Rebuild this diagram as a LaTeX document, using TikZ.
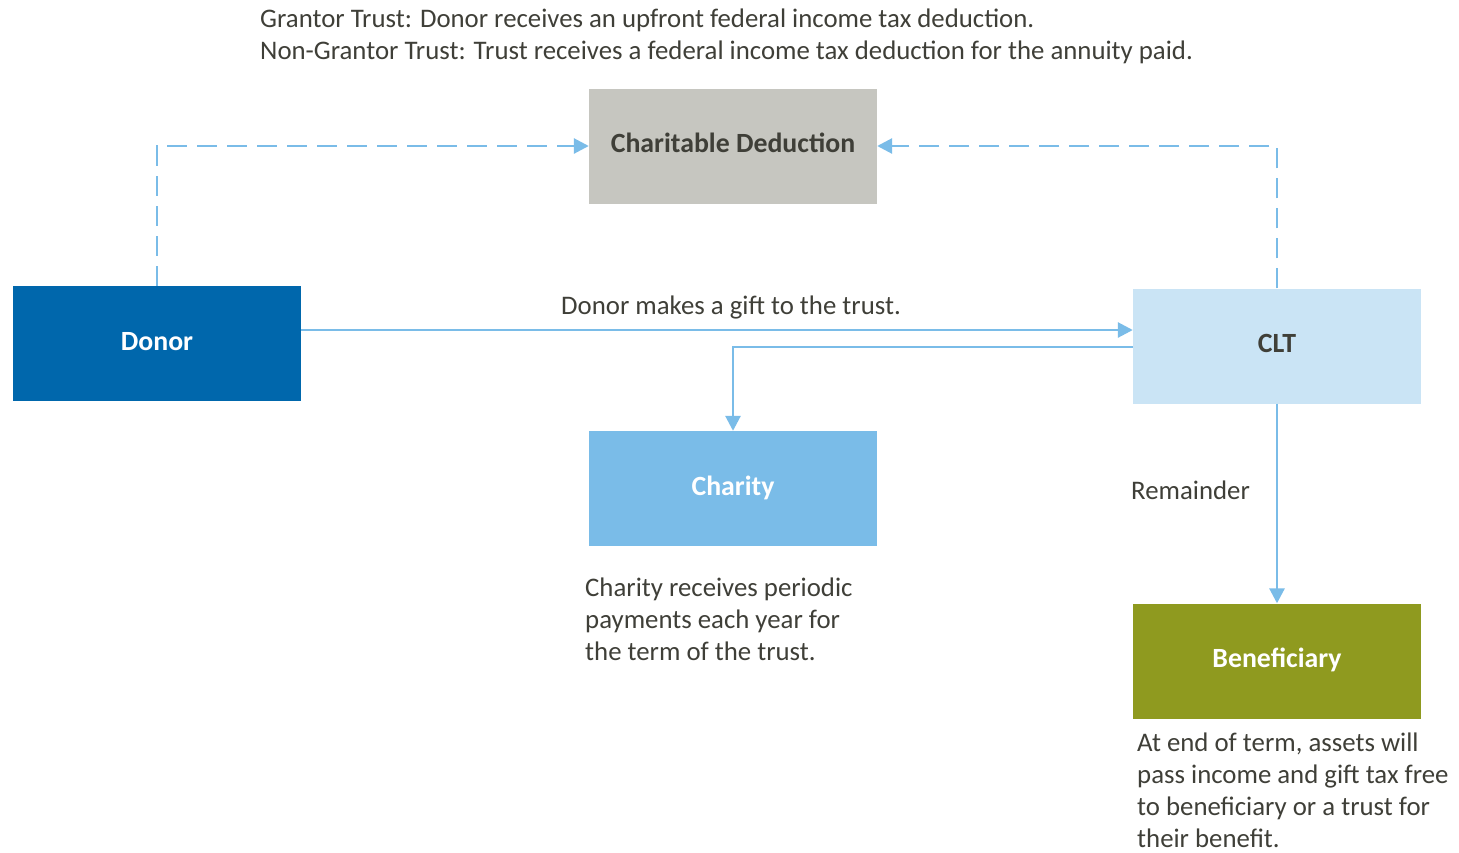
\documentclass[tikz,border=0pt]{standalone}
\usepackage{fontspec}
\setmainfont{Carlito}
\usetikzlibrary{arrows.meta}
\definecolor{txt}{HTML}{3F3F38}
\definecolor{lineblue}{HTML}{7ABCE8}
\definecolor{cdgray}{HTML}{C6C6C0}
\definecolor{donorblue}{HTML}{0067AC}
\definecolor{cltblue}{HTML}{CAE4F5}
\definecolor{charblue}{HTML}{7ABCE8}
\definecolor{olive}{HTML}{8F9A1F}
\tikzset{
  boxnode/.style={rectangle, inner sep=0pt, minimum width=288pt, minimum height=115pt,
    text height=13pt, text depth=0pt, font=\fontsize{27.8}{32}\selectfont\bfseries},
  plain/.style={inner sep=0pt, anchor=base west, text=txt, align=left,
    font=\fontsize{26.8}{32}\selectfont},
  flow/.style={draw=lineblue, line width=2.8pt, -{Triangle[length=15pt,width=15pt]}},
  dflow/.style={flow, dash pattern=on 20pt off 10pt}
}
\begin{document}
\begin{tikzpicture}[x=1pt,y=-1pt]
\useasboundingbox (0,0) rectangle (1459,852);
\fill[white] (0,0) rectangle (1459,852);
\node[plain] (note) at (260,59) {Grantor Trust: Donor receives an upfront federal income tax deduction.\\Non-Grantor Trust: Trust receives a federal income tax deduction for the annuity paid.};
\node[boxnode, fill=cdgray, text=txt] (cd) at (733,146) {Charitable Deduction};
\node[boxnode, fill=donorblue, text=white] (donor) at (157,343.5) {Donor};
\node[boxnode, fill=cltblue, text=txt] (clt) at (1277,346) {CLT};
\node[boxnode, fill=charblue, text=white] (charity) at (733,488.5) {Charity};
\node[boxnode, fill=olive, text=white] (benef) at (1277,661) {Beneficiary};
\draw[dflow] (donor.north) |- (cd.west);
\draw[dflow] (clt.north) |- (cd.east);
\draw[flow] ([yshift=13.5pt]donor.east) -- ([yshift=13.5pt]donor.east -| clt.west);
\draw[flow] ([yshift=-1pt]clt.west) -| (charity.north);
\draw[flow] (clt.south) -- (benef.north);
\node[plain] (giftlbl) at (561,314) {Donor makes a gift to the trust.};
\node[plain] (remlbl) at (1131,499) {Remainder};
\node[plain] (chartxt) at (585,660) {Charity receives periodic\\payments each year for\\the term of the trust.};
\node[plain] (beneftxt) at (1137,847) {At end of term, assets will\\pass income and gift tax free\\to beneficiary or a trust for\\their benefit.};
\end{tikzpicture}
\end{document}
